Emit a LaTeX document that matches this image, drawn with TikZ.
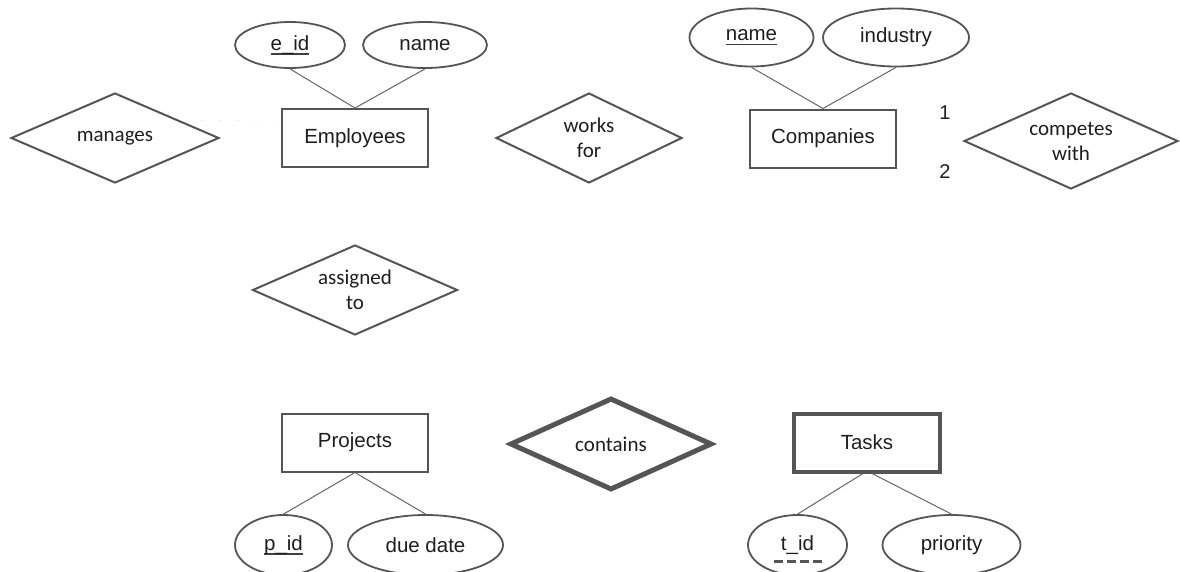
\documentclass[tikz,border=0pt]{standalone}
\usepackage{fontspec}
\setmainfont{Liberation Sans}
\newfontfamily\calfont{Carlito}
\usetikzlibrary{shapes.geometric}
\definecolor{edge}{HTML}{555555}
\definecolor{ink}{HTML}{1E1E1E}
\newcommand{\keyul}[1]{\setbox0\hbox{#1}\leavevmode\rlap{\raisebox{-4.5pt}{\color{ink!85}\rule{\wd0}{1.6pt}}}\box0}
\tikzset{
  ent/.style={draw=edge, line width=2pt, rectangle, minimum width=146pt, minimum height=58pt, inner sep=0pt, text=ink, font=\fontsize{20.5}{25}\selectfont},
  wkent/.style={ent, line width=4pt},
  rel/.style={draw=edge, line width=2pt, diamond, aspect=2.2, inner sep=0pt, text=ink, align=center, font=\calfont\fontsize{21}{25}\selectfont},
  wkrel/.style={rel, line width=5pt},
  attr/.style={draw=edge, line width=1.8pt, ellipse, inner sep=0pt, text=ink, font=\fontsize{20.5}{25}\selectfont},
  link/.style={draw=edge!90, line width=1pt},
  card/.style={text=ink, font=\fontsize{20}{24}\selectfont},
}
\begin{document}
\begin{tikzpicture}[x=1pt,y=-1pt]
\useasboundingbox (0,0) rectangle (1180,571);
% entities
\node[ent] (emp) at (355,138) {Employees};
\node[ent] (comp) at (823,138.5) {Companies};
\node[ent] (proj) at (355,442.5) {Projects};
\node[wkent] (task) at (867,442.5) {Tasks};
% relationships
\node[rel, minimum width=208pt, minimum height=90pt] (man) at (115,138) {manages};
\node[rel, minimum width=186pt, minimum height=90pt] (wf) at (589,138) {works\\for};
\node[rel, minimum width=214pt, minimum height=96pt] (cw) at (1071,141) {competes\\with};
\node[rel, minimum width=205pt, minimum height=90pt] (at) at (355,290) {assigned\\to};
\node[wkrel, minimum width=202pt, minimum height=92pt] (con) at (611,444) {contains};
% attributes
\node[attr, minimum width=110pt, minimum height=46pt] (eid) at (290,45) {\keyul{e\_id}};
\node[attr, minimum width=124pt, minimum height=46pt] (ename) at (425,45) {name};
\node[attr, minimum width=124pt, minimum height=58pt] (cname) at (751.5,37.5) {\keyul{name}};
\node[attr, minimum width=146pt, minimum height=58pt] (cind) at (896,37.5) {industry};
\node[attr, minimum width=97pt, minimum height=60pt] (pid) at (283.5,545) {\keyul{p\_id}};
\node[attr, minimum width=155pt, minimum height=60pt] (due) at (425.5,545) {due date};
\node[attr, minimum width=99pt, minimum height=60pt] (tid) at (797.5,545) {t\_id};
\node[attr, minimum width=138pt, minimum height=60pt] (prio) at (951.5,545) {priority};
\draw[edge, line width=3pt, dash pattern=on 9pt off 4pt] ([xshift=-24pt,yshift=-16pt]tid.center) coordinate (tu1) -- ([xshift=25pt,yshift=-16pt]tid.center) coordinate (tu2);
% cardinalities
\node[card] (c1) at (945,113) {1};
\node[card] (c2) at (945,172) {2};
% attribute links
\draw[link] (eid.south) -- (emp.north);
\draw[link] (ename.south) -- (emp.north);
\draw[link] (cname.south) -- (comp.north);
\draw[link] (cind.south) -- (comp.north);
\draw[link] (proj.south) -- (pid.north);
\draw[link] (proj.south) -- (due.north);
\draw[link] ([xshift=-4pt]task.south) -- (tid.north);
\draw[link] ([xshift=5pt]task.south) -- (prio.north);
% faint trace between manages and Employees
\coordinate (f1) at (200,120);
\coordinate (f2) at (274,120);
\draw[gray!10, line width=1pt, dash pattern=on 4pt off 14pt] (f1) -- (f2);
\end{tikzpicture}
\end{document}
